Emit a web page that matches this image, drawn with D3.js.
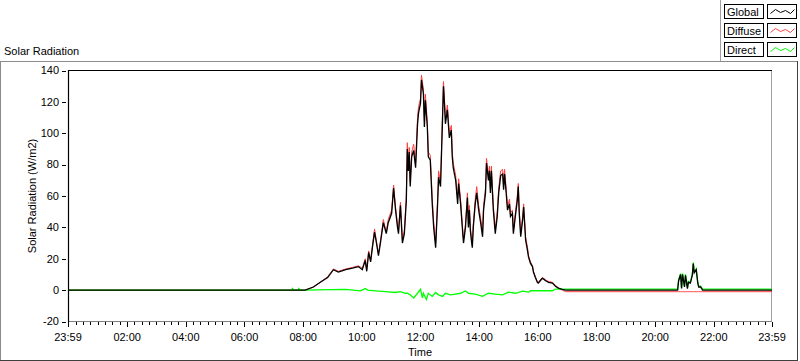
<!DOCTYPE html>
<html>
<head>
<meta charset="utf-8">
<script src="https://cdn.jsdelivr.net/npm/d3@7/dist/d3.min.js"></script>
<style>
    body { margin: 0; background: #fff; }
    svg text { font-family: "Liberation Sans", Arial, sans-serif; font-size: 11px; fill: #000; }
</style>
</head>
<body>
<svg id="chart" width="800" height="361"></svg>
<script>
// sample times shared by Global and Diffuse
var sampleTimes = ["00:00","08:04","08:21","08:35","08:50","09:02","09:12","09:27","09:41","09:53",
    "10:01","10:07","10:10","10:14","10:18","10:22","10:26","10:30","10:34","10:38",
    "10:44","10:50","10:54","11:01","11:05","11:09","11:13","11:15","11:19","11:23",
    "11:27","11:31","11:33","11:35","11:37","11:39","11:42","11:46","11:50","11:54",
    "11:56","12:00","12:02","12:06","12:08","12:10","12:14","12:16","12:20","12:24",
    "12:27","12:31","12:35","12:37","12:41","12:45","12:47","12:49","12:51","12:55",
    "12:57","12:59","13:03","13:05","13:07","13:12","13:16","13:18","13:22","13:26",
    "13:28","13:32","13:36","13:38","13:40","13:42","13:44","13:46","13:48","13:52",
    "13:55","13:59","14:03","14:07","14:09","14:13","14:15","14:19","14:21","14:23",
    "14:25","14:29","14:33","14:37","14:40","14:44","14:48","14:50","14:52","14:56",
    "14:58","15:02","15:04","15:08","15:10","15:14","15:18","15:20","15:22","15:25",
    "15:29","15:31","15:35","15:39","15:41","15:45","15:49","15:51","15:55","15:59",
    "16:01","16:05","16:09","16:12","16:16","16:22","16:30","16:36","16:42","16:50",
    "16:57","20:46","20:48","20:52","20:54","20:56","21:00","21:02","21:06","21:08",
    "21:12","21:16","21:18","21:20","21:24","21:27","21:29","21:33","21:37","23:59"];

var globalValues = [0,0,2,5,8,13,11.5,13,14,15,
    13,19,12,24,18,28,37,30,22,30,
    43,36,43,49,65,51,40,36,54,30,
    36,57,90,76,88,66,85,89,78,106,
    113,119,134,125,104,121,104,85,83,55,
    40,27,55,72,66,108,130,119,106,115,
    106,97,102,85,78,70,55,68,55,38,
    30,40,59,40,51,38,32,27,40,55,
    62,51,43,34,51,62,81,70,76,62,
    76,51,36,47,62,73,74,64,74,59,
    51,55,47,49,36,47,57,66,49,34,
    45,53,32,25,21,17,15,11.5,8,5,
    4.5,6,7.5,7,6,5,4.5,2.5,1.3,0.5,
    0,0,6,10,1,10,2,9.5,1,5,
    4.5,9.5,17,11,13,5,2,2,0,0];

var diffuseValues = [0,0,2,5,8.5,13.5,12,13.5,14.5,15.5,
    14,20,13,25,19,29,39,31,23,31,
    45,37,45,51,67,53,42,38,56,32,
    38,59,94,79,91,69,88,93,81,110,
    117,122,137,128,108,125,107,88,86,59,
    43,30,58,76,69,112,133,122,109,118,
    109,100,105,88,81,73,58,71,58,40,
    32,42,62,42,54,40,34,29,42,58,
    66,54,46,37,54,65,84,73,79,65,
    79,54,39,50,65,76,77,67,77,62,
    53,58,49,51,38,49,60,68,51,36,
    47,55,34,27,22,18,15.5,12,8.5,5.5,
    5,6.5,8,7.5,6.5,5.5,5,3,1.5,0,
    -1,-1,-1,-1,-1,-1,-1,-1,-1,-1,
    -1,-1,-1,-1,-1,-1,-1,-1,-1,-1];

var directTimes = ["00:00","07:36","07:38","07:40","07:49","07:51","07:53","08:05","08:56","09:27",
    "09:57","10:07","10:12","10:28","10:48","11:09","11:19","11:29","11:33","11:39",
    "11:46","11:54","12:00","12:04","12:06","12:12","12:16","12:24","12:31","12:37",
    "12:45","12:51","13:01","13:12","13:22","13:32","13:38","13:52","14:07","14:19",
    "14:33","14:48","15:00","15:14","15:29","15:41","15:45","16:30","16:36","20:46",
    "20:48","20:52","20:54","20:56","21:00","21:02","21:06","21:08","21:12","21:16",
    "21:18","21:20","21:24","21:27","21:29","21:33","21:37","23:59"];

var directValues = [0,0,1,0,0,1,0,0,0.3,0.5,
    -0.5,1,0,-0.5,-1,-1.5,-1,-2,-2,-3,
    -5,-2,0.5,-5,-2,-6,-2,-4,-1.5,-3,
    -4,-2,-3,-2.5,-2,-0.5,-2,-2.5,-4,-2,
    -2.5,-3,-1.3,-2,-0.7,-1.3,-0.4,-0.4,0.7,0.7,
    6.5,10.5,1.5,10.5,2.5,10,1.5,5.5,5,10,
    17.5,11.5,13.5,5.5,2.5,2.5,0.7,0.7];

var seriesNames = ["Global", "Diffuse", "Direct"];
var seriesColors = ["#000000", "#ff4040", "#00ff00"];
var yTickValues = [-20, 0, 20, 40, 60, 80, 100, 120, 140];
var xTickLabels = ["23:59","02:00","04:00","06:00","08:00","10:00","12:00","14:00","16:00","18:00","20:00","22:00","23:59"];

var svg = d3.select("#chart");
var parseT = d3.timeParse("%d %H:%M");
var tStart = parseT("01 23:59"), tEnd = parseT("02 23:59");

var pLeft = 68, pRight = 772, pTop = 70, pBottom = 322;

var x = d3.scaleTime().domain([tStart, tEnd]).range([pLeft, pRight]);
var y = d3.scaleLinear().domain([-20, 140]).range([321.5, 70.5]);

// outer panel
svg.append("line").attr("x1", 0).attr("x2", 797).attr("y1", 61.5).attr("y2", 61.5).attr("stroke", "#8c8c8c");
svg.append("line").attr("x1", 0.5).attr("x2", 0.5).attr("y1", 61).attr("y2", 361).attr("stroke", "#8c8c8c");
svg.append("line").attr("x1", 0).attr("x2", 798).attr("y1", 360.5).attr("y2", 360.5).attr("stroke", "#404040");
svg.append("line").attr("x1", 797.5).attr("x2", 797.5).attr("y1", 61).attr("y2", 361).attr("stroke", "#404040");
svg.append("line").attr("x1", 720.5).attr("x2", 720.5).attr("y1", 0).attr("y2", 61).attr("stroke", "#a0a0a0");

svg.append("text").attr("x", 4).attr("y", 55).text("Solar Radiation");

// plot frame
svg.append("line").attr("x1", pRight - 0.5).attr("x2", pRight - 0.5).attr("y1", pTop).attr("y2", pBottom).attr("stroke", "#a0a0a0");
svg.append("line").attr("x1", pLeft).attr("x2", pRight).attr("y1", pBottom - 0.5).attr("y2", pBottom - 0.5).attr("stroke", "#808080");

// y axis ticks
var yg = svg.append("g");
yg.selectAll("line").data(yTickValues).enter().append("line")
    .attr("x1", 62).attr("x2", 66)
    .attr("y1", d => Math.round(y(d)) + 0.5).attr("y2", d => Math.round(y(d)) + 0.5)
    .attr("stroke", "#000");
yg.selectAll("text").data(yTickValues).enter().append("text")
    .attr("x", 59).attr("y", d => y(d)).attr("dy", "0.35em")
    .attr("text-anchor", "end").text(d => d);

// x axis ticks
var majorDates = xTickLabels.map(function (l, i) {
    return i === 0 ? tStart : (i === xTickLabels.length - 1 ? tEnd : parseT("02 " + l));
});
var minorDates = d3.timeMinute.every(15).range(parseT("02 00:00"), tEnd);

var xg = svg.append("g");
xg.selectAll("line.minor").data(minorDates).enter().append("line").attr("class", "minor")
    .attr("x1", d => Math.round(x(d)) + 0.5).attr("x2", d => Math.round(x(d)) + 0.5)
    .attr("y1", pBottom).attr("y2", pBottom + 3).attr("stroke", "#000");
xg.selectAll("line.major").data(majorDates).enter().append("line").attr("class", "major")
    .attr("x1", d => Math.round(x(d)) + 0.5).attr("x2", d => Math.round(x(d)) + 0.5)
    .attr("y1", pBottom).attr("y2", pBottom + 5).attr("stroke", "#000");
xg.selectAll("text").data(majorDates).enter().append("text")
    .attr("x", d => x(d)).attr("y", 341)
    .attr("text-anchor", "middle").text((d, i) => xTickLabels[i]);

svg.append("text").attr("x", 420).attr("y", 356).attr("text-anchor", "middle").text("Time");
svg.append("text").attr("transform", "translate(36," + ((pTop + pBottom) / 2) + ") rotate(-90)")
    .attr("text-anchor", "middle").text("Solar Radiation (W/m2)");

// series
var globalData = sampleTimes.map((t, i) => ({t: parseT("02 " + t), v: globalValues[i]}));
var diffuseData = sampleTimes.map((t, i) => ({t: parseT("02 " + t), v: diffuseValues[i]}));
var directData = directTimes.map((t, i) => ({t: parseT("02 " + t), v: directValues[i]}));
globalData[0].t = tStart; diffuseData[0].t = tStart; directData[0].t = tStart;
globalData[globalData.length - 1].t = tEnd;
diffuseData[diffuseData.length - 1].t = tEnd;
directData[directData.length - 1].t = tEnd;

var line = d3.line().x(d => x(d.t)).y(d => y(d.v));

// draw order: Diffuse, Direct, then Global on top
var plot = svg.append("g");
[[diffuseData, 1], [directData, 2], [globalData, 0]].forEach(function (s) {
    plot.append("path").datum(s[0])
        .attr("fill", "none")
        .attr("stroke", seriesColors[s[1]])
        .attr("stroke-width", s[1] === 1 ? 1 : 1.3)
        .attr("d", line);
});

// top / left frame drawn over data
svg.append("line").attr("x1", pLeft).attr("x2", pRight).attr("y1", pTop + 0.5).attr("y2", pTop + 0.5).attr("stroke", "#000").attr("stroke-width", 1.2);
svg.append("line").attr("x1", pLeft + 0.5).attr("x2", pLeft + 0.5).attr("y1", pTop).attr("y2", pBottom).attr("stroke", "#000").attr("stroke-width", 1.2);

// legend
var leg = svg.append("g");
seriesNames.forEach(function (name, i) {
    var yy = 4.5 + i * 19;
    leg.append("rect").attr("x", 724.5).attr("y", yy).attr("width", 39).attr("height", 14)
        .attr("fill", "#fff").attr("stroke", "#000");
    leg.append("text").attr("x", 727).attr("y", yy + 11).text(name);
    leg.append("rect").attr("x", 767.5).attr("y", yy).attr("width", 29).attr("height", 14)
        .attr("fill", "#fff").attr("stroke", "#000");
    var pts = [[3, 9], [8, 5], [13, 8], [18, 6], [23, 9], [27, 5]];
    leg.append("polyline")
        .attr("points", pts.map(p => (767.5 + p[0]) + "," + (yy + p[1])).join(" "))
        .attr("fill", "none").attr("stroke", seriesColors[i]).attr("stroke-width", 1);
});
</script>
</body>
</html>
